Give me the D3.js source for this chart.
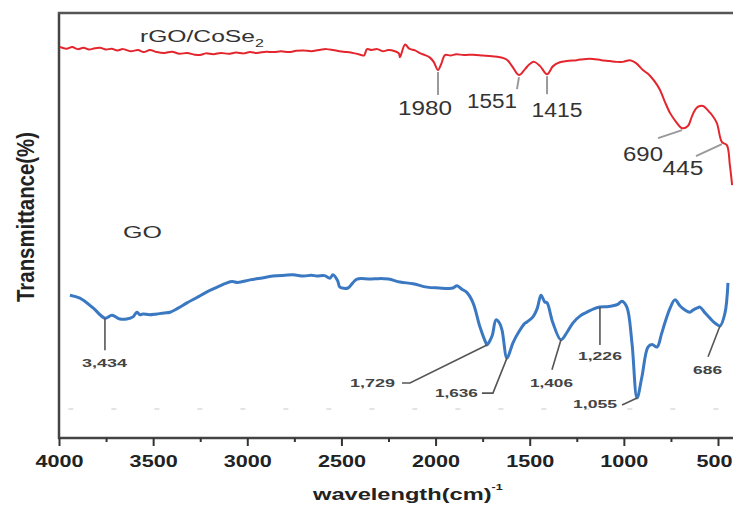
<!DOCTYPE html>
<html>
<head>
<meta charset="utf-8">
<script src="https://cdn.jsdelivr.net/npm/d3@7"></script>
<style>
  body { margin: 0; background: #fff; }
  svg { display: block; }
  text { font-family: "Liberation Sans", Arial, sans-serif; }
</style>
</head>
<body>
<svg width="733" height="508"></svg>
<script>
// ---- data ----
var redWn = [3995,3960,3930,3900,3870,3840,3810,3782,3750,3720,3690,3660,3620,3580,3550,3517,3480,3440,3400,3360,
  3320,3280,3251,3220,3180,3140,3100,3060,3020,2986,2950,2900,2860,2820,2780,2740,2700,2660,2620,2580,
  2545,2510,2470,2430,2400,2380,2364,2340,2310,2280,2250,2216,2195,2189,2162,2140,2109,2080,2056,2030,
  2010,1987,1970,1950,1920,1890,1850,1800,1750,1700,1660,1621,1594,1557,1525,1500,1477,1445,1408,1376,
  1340,1302,1250,1200,1164,1120,1074,1040,1005,967,935,899,875,851,830,808,782,755,723,691,
  660,640,628,610,596,580,564,548,532,506,479,453,437,425];
var redT = [92.0,91.6,92.0,91.5,91.8,91.4,91.7,91.8,91.4,91.6,91.2,91.5,91.0,91.3,90.8,91.3,90.8,90.6,90.9,90.4,
  90.6,90.2,90.1,90.5,90.3,90.6,90.4,90.7,90.5,90.8,90.6,90.9,90.8,91.0,90.8,91.1,91.2,91.0,91.3,91.5,
  91.3,91.0,90.8,90.5,90.2,90.0,91.5,91.3,91.5,91.0,91.3,91.0,90.5,89.6,92.6,91.6,91.2,90.5,90.1,89.5,
  88.5,86.6,88.0,90.1,90.0,90.3,90.1,90.2,90.0,89.8,89.6,89.0,87.5,85.4,86.8,88.0,88.5,87.5,85.6,87.5,
  88.4,88.7,88.9,89.2,89.2,88.9,88.7,88.5,88.5,88.9,88.2,86.6,85.8,84.7,83.5,81.9,79.1,76.5,74.4,72.9,
  73.4,75.5,76.7,77.8,78.1,78.1,77.6,76.8,76.0,74.1,69.6,68.9,64.2,59.5];

var blueWn = [3942,3889,3819,3756,3719,3676,3640,3607,3586,3570,3554,3520,3480,3440,3410,3370,3320,3270,3214,3160,
  3108,3080,3050,2986,2930,2864,2800,2757,2700,2660,2630,2590,2561,2545,2520,2508,2465,2440,2417,2348,
  2300,2250,2189,2120,2046,1980,1930,1908,1886,1860,1833,1801,1764,1732,1727,1700,1679,1660,1647,1621,
  1600,1589,1552,1530,1515,1483,1460,1440,1420,1408,1377,1334,1300,1270,1230,1196,1160,1127,1090,1058,
  1030,1010,984,957,930,904,872,850,824,800,782,755,729,700,675,650,633,610,596,570,
  543,515,489,463,447];
var blueT = [33.6,32.9,30.6,28.2,28.9,28.0,28.0,28.5,29.6,29.0,29.2,29.0,29.2,29.4,29.6,30.5,31.8,33.0,34.4,35.5,
  36.5,36.8,36.6,37.2,37.6,38.1,38.3,38.4,38.1,38.3,38.1,38.2,37.6,38.4,37.0,35.5,35.3,36.5,37.4,37.4,
  37.5,37.4,36.7,36.3,35.5,35.3,35.2,35.3,35.8,35.0,34.2,31.8,26.1,22.3,21.9,24.0,27.8,27.0,25.4,18.8,
  21.0,22.4,25.4,26.8,27.3,28.5,30.5,33.6,32.0,31.8,27.1,23.1,25.0,27.1,28.8,29.6,30.4,30.8,30.9,31.1,
  31.5,32.2,30.8,22.4,9.4,14.4,21.4,22.0,21.4,24.5,27.1,30.5,32.5,31.0,30.1,29.6,30.1,30.6,30.8,29.5,
  28.2,27.0,26.4,29.4,36.5];

var xTicks = [4000, 3500, 3000, 2500, 2000, 1500, 1000, 500];
var xMinorTicks = [3750, 3250, 2750, 2250, 1750, 1250, 750];

var redPeakLabels = ["1980", "1551", "1415", "690", "445"];
var redPeakWn = [1987, 1557, 1408, 691, 479];
var redPeakT = [86.6, 85.4, 85.6, 72.9, 69.6];

var bluePeakLabels = ["3,434", "1,729", "1,636", "1,406", "1,226", "1,055", "686"];
var bluePeakWn = [3756, 1727, 1621, 1334, 1127, 930, 489];
var bluePeakT = [28.2, 21.9, 18.8, 23.1, 30.8, 9.4, 26.4];

// ---- layout ----
var svg = d3.select("svg"),
    width = +svg.attr("width"),
    height = +svg.attr("height");

var x = d3.scaleLinear().domain([4000, 500]).range([59, 718]);
var y = d3.scaleLinear().domain([0, 100]).range([438, 13]);

// leader line bends (px offsets from the peak) and label anchors
var redLeader = [[[0, 23]], [[-2, 12]], [[0, 18]], [[-24, 8]], [[-26, 12]]];
var redLabelPos = [[-13, 45, 54], [-27, 33, 50], [10, 43, 51], [-39, 33, 40], [-39, 33, 41]];
var blueLeader = [[[0, 32]], [[-77, 38], [-85, 38]], [[-14, 35], [-25, 35]], [[-9, 30]], [[0, 38]], [[-15, 7]], [[-12, 31]]];
var blueLabelPos = [[-0.5, 49, 45, "middle"], [-92, 42, 45, "end"], [-29, 39, 43, "end"], [-9.5, 47, 43, "middle"],
                    [0, 53, 44, "middle"], [-20, 10, 44, "end"], [-12.5, 48, 29, "middle"]];

// faint dotted baseline artefact
svg.append("line")
    .attr("x1", x(3950)).attr("x2", width)
    .attr("y1", y(6.8)).attr("y2", y(6.8))
    .attr("stroke", "#e4e4e4").attr("stroke-width", 2)
    .attr("stroke-dasharray", "5,38");

// frame: left, top, bottom
svg.append("line").attr("x1", 59).attr("x2", 59).attr("y1", 12).attr("y2", 439)
    .attr("stroke", "#444").attr("stroke-width", 2.5);
svg.append("line").attr("x1", 58).attr("x2", width).attr("y1", 13).attr("y2", 13)
    .attr("stroke", "#555").attr("stroke-width", 2.5);
svg.append("line").attr("x1", 58).attr("x2", width).attr("y1", 438).attr("y2", 438)
    .attr("stroke", "#444").attr("stroke-width", 2.5);

var xAxis = svg.append("g")
    .attr("transform", "translate(0,438)")
    .call(d3.axisBottom(x).tickValues(xTicks).tickSize(8).tickFormat(d3.format("d")));
xAxis.select(".domain").remove();
xAxis.selectAll(".tick line").attr("stroke", "#333").attr("stroke-width", 2);
xAxis.selectAll(".tick text")
    .attr("y", 29).attr("dy", null)
    .attr("fill", "#222")
    .style("font-size", "16px").style("font-weight", "bold")
    .attr("transform", "scale(1.35,1)");
// the last label sits against the right edge of the picture
xAxis.selectAll(".tick text")
    .filter(function(d) { return d === 500; })
    .attr("text-anchor", "end")
    .attr("x", (width - x(500) - 1) / 1.35);

var xMinor = svg.append("g")
    .attr("transform", "translate(0,438)")
    .call(d3.axisBottom(x).tickValues(xMinorTicks).tickSize(4).tickFormat(""));
xMinor.select(".domain").remove();
xMinor.selectAll(".tick line").attr("stroke", "#333").attr("stroke-width", 2);

// axis titles
var xt = svg.append("text")
    .attr("transform", "translate(313,500) scale(1.39,1)")
    .attr("fill", "#222")
    .style("font-size", "17px").style("font-weight", "bold");
xt.append("tspan").text("wavelength(cm)");
xt.append("tspan").attr("dy", -10).style("font-size", "9px").text("-1");

svg.append("text")
    .attr("transform", "translate(34,217) rotate(-90) scale(1.2,1.45)")
    .attr("text-anchor", "middle")
    .attr("fill", "#222")
    .style("font-size", "17px").style("font-weight", "bold")
    .text("Transmittance(%)");

// spectra
var line = d3.line()
    .x(function(d) { return x(d[0]); })
    .y(function(d) { return y(d[1]); })
    .curve(d3.curveCatmullRom.alpha(0.5));

svg.append("path")
    .datum(redWn.map(function(w, i) { return [w, redT[i]]; }))
    .attr("d", line)
    .attr("fill", "none").attr("stroke", "#e3262d").attr("stroke-width", 2);

svg.append("path")
    .datum(blueWn.map(function(w, i) { return [w, blueT[i]]; }))
    .attr("d", line)
    .attr("fill", "none").attr("stroke", "#3a78c2").attr("stroke-width", 3)
    .attr("stroke-linejoin", "round");

// series names
var rl = svg.append("text")
    .attr("transform", "translate(140,42) scale(1.45,1)")
    .attr("fill", "#333").style("font-size", "17px");
rl.append("tspan").text("rGO/CoSe");
rl.append("tspan").attr("dy", 5).style("font-size", "11px").text("2");

svg.append("text")
    .attr("transform", "translate(123,238) scale(1.47,1)")
    .attr("fill", "#333").style("font-size", "17px")
    .text("GO");

// peak annotations
function leaderPath(px, py, bends) {
    var pts = [[px, py]].concat(bends.map(function(b) { return [px + b[0], py + b[1]]; }));
    return d3.line()(pts);
}

redPeakLabels.forEach(function(lab, i) {
    var px = x(redPeakWn[i]), py = y(redPeakT[i]);
    svg.append("path")
        .attr("d", leaderPath(px, py + 2, redLeader[i]))
        .attr("fill", "none").attr("stroke", "#9a9a9a").attr("stroke-width", 2);
    var p = redLabelPos[i];
    svg.append("text")
        .attr("x", px + p[0]).attr("y", py + p[1])
        .attr("text-anchor", "middle")
        .attr("textLength", p[2]).attr("lengthAdjust", "spacingAndGlyphs")
        .attr("fill", "#333").style("font-size", "20px")
        .text(lab);
});

bluePeakLabels.forEach(function(lab, i) {
    var px = x(bluePeakWn[i]), py = y(bluePeakT[i]);
    svg.append("path")
        .attr("d", leaderPath(px, py, blueLeader[i]))
        .attr("fill", "none").attr("stroke", "#555").attr("stroke-width", 1.6);
    var p = blueLabelPos[i];
    svg.append("text")
        .attr("x", px + p[0]).attr("y", py + p[1])
        .attr("text-anchor", p[3])
        .attr("textLength", p[2]).attr("lengthAdjust", "spacingAndGlyphs")
        .attr("fill", "#444").style("font-size", "11px").style("font-weight", "bold")
        .text(lab);
});
</script>
</body>
</html>
